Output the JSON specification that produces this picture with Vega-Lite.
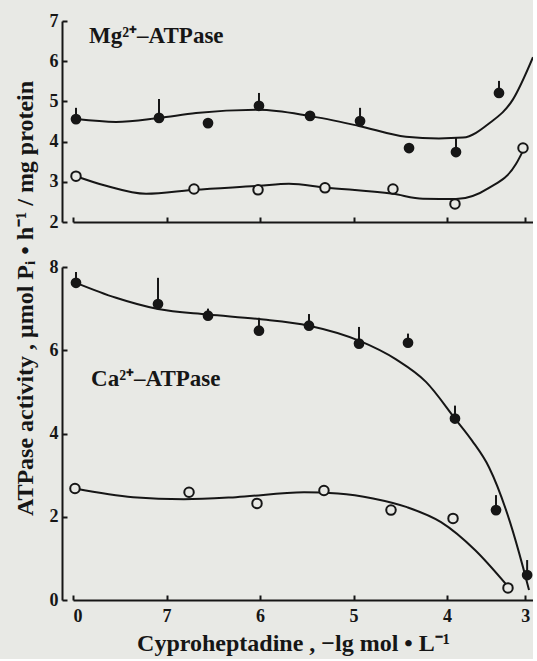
{
  "$schema": "https://vega.github.io/schema/vega-lite/v6.json",
  "background": "#e8e9e5",
  "padding": {"left": 13, "top": 12, "right": 0, "bottom": 4},
  "config": {
    "view": {"stroke": null},
    "font": "Liberation Serif",
    "axis": {
      "domainColor": "#161616", "domainWidth": 2, "tickColor": "#161616", "tickWidth": 2,
      "labelColor": "#161616", "labelFont": "Liberation Serif", "labelFontSize": 18, "labelFontWeight": "bold",
      "titleColor": "#161616", "titleFont": "Liberation Serif", "titleFontSize": 24, "titleFontWeight": "bold",
      "grid": false
    }
  },
  "datasets": {
    "points": [
      {"panel": "Mg", "series": "filled", "x": 7.968, "y": 4.56, "hi": 4.84},
      {"panel": "Mg", "series": "filled", "x": 7.080, "y": 4.59, "hi": 5.06},
      {"panel": "Mg", "series": "filled", "x": 6.556, "y": 4.46, "hi": null},
      {"panel": "Mg", "series": "filled", "x": 6.011, "y": 4.89, "hi": 5.21},
      {"panel": "Mg", "series": "filled", "x": 5.465, "y": 4.64, "hi": null},
      {"panel": "Mg", "series": "filled", "x": 4.930, "y": 4.51, "hi": 4.84},
      {"panel": "Mg", "series": "filled", "x": 4.406, "y": 3.84, "hi": null},
      {"panel": "Mg", "series": "filled", "x": 3.885, "y": 3.74, "hi": 4.09},
      {"panel": "Mg", "series": "filled", "x": 3.335, "y": 5.21, "hi": 5.51},
      {"panel": "Mg", "series": "open", "x": 7.968, "y": 3.14, "hi": null},
      {"panel": "Mg", "series": "open", "x": 6.706, "y": 2.82, "hi": null},
      {"panel": "Mg", "series": "open", "x": 6.021, "y": 2.80, "hi": null},
      {"panel": "Mg", "series": "open", "x": 5.305, "y": 2.85, "hi": null},
      {"panel": "Mg", "series": "open", "x": 4.578, "y": 2.82, "hi": null},
      {"panel": "Mg", "series": "open", "x": 3.898, "y": 2.45, "hi": null},
      {"panel": "Mg", "series": "open", "x": 3.028, "y": 3.84, "hi": null},
      {"panel": "Ca", "series": "filled", "x": 7.968, "y": 7.62, "hi": 7.88},
      {"panel": "Ca", "series": "filled", "x": 7.091, "y": 7.11, "hi": 7.74},
      {"panel": "Ca", "series": "filled", "x": 6.556, "y": 6.83, "hi": 7.00},
      {"panel": "Ca", "series": "filled", "x": 6.011, "y": 6.47, "hi": 6.78},
      {"panel": "Ca", "series": "filled", "x": 5.476, "y": 6.59, "hi": 6.87},
      {"panel": "Ca", "series": "filled", "x": 4.941, "y": 6.16, "hi": 6.56},
      {"panel": "Ca", "series": "filled", "x": 4.417, "y": 6.18, "hi": 6.40},
      {"panel": "Ca", "series": "filled", "x": 3.898, "y": 4.36, "hi": 4.67},
      {"panel": "Ca", "series": "filled", "x": 3.373, "y": 2.16, "hi": 2.52},
      {"panel": "Ca", "series": "filled", "x": 2.975, "y": 0.60, "hi": 0.96},
      {"panel": "Ca", "series": "open", "x": 7.979, "y": 2.68, "hi": null},
      {"panel": "Ca", "series": "open", "x": 6.759, "y": 2.59, "hi": null},
      {"panel": "Ca", "series": "open", "x": 6.032, "y": 2.32, "hi": null},
      {"panel": "Ca", "series": "open", "x": 5.316, "y": 2.63, "hi": null},
      {"panel": "Ca", "series": "open", "x": 4.599, "y": 2.16, "hi": null},
      {"panel": "Ca", "series": "open", "x": 3.923, "y": 1.96, "hi": null},
      {"panel": "Ca", "series": "open", "x": 3.220, "y": 0.29, "hi": null}
    ],
    "curves": [
      {"panel": "Mg", "series": "filled", "x": 7.968, "y": 4.56},
      {"panel": "Mg", "series": "filled", "x": 7.540, "y": 4.49},
      {"panel": "Mg", "series": "filled", "x": 7.080, "y": 4.59},
      {"panel": "Mg", "series": "filled", "x": 6.684, "y": 4.71},
      {"panel": "Mg", "series": "filled", "x": 6.011, "y": 4.79},
      {"panel": "Mg", "series": "filled", "x": 5.476, "y": 4.64},
      {"panel": "Mg", "series": "filled", "x": 4.941, "y": 4.39},
      {"panel": "Mg", "series": "filled", "x": 4.439, "y": 4.12},
      {"panel": "Mg", "series": "filled", "x": 4.086, "y": 4.08},
      {"panel": "Mg", "series": "filled", "x": 3.795, "y": 4.10},
      {"panel": "Mg", "series": "filled", "x": 3.463, "y": 4.45},
      {"panel": "Mg", "series": "filled", "x": 3.156, "y": 5.05},
      {"panel": "Mg", "series": "filled", "x": 2.900, "y": 6.10},
      {"panel": "Mg", "series": "open", "x": 7.968, "y": 3.14},
      {"panel": "Mg", "series": "open", "x": 7.647, "y": 2.90},
      {"panel": "Mg", "series": "open", "x": 7.219, "y": 2.70},
      {"panel": "Mg", "series": "open", "x": 6.706, "y": 2.80},
      {"panel": "Mg", "series": "open", "x": 6.011, "y": 2.90},
      {"panel": "Mg", "series": "open", "x": 5.690, "y": 2.95},
      {"panel": "Mg", "series": "open", "x": 5.305, "y": 2.86},
      {"panel": "Mg", "series": "open", "x": 4.578, "y": 2.70},
      {"panel": "Mg", "series": "open", "x": 4.257, "y": 2.58},
      {"panel": "Mg", "series": "open", "x": 3.885, "y": 2.57},
      {"panel": "Mg", "series": "open", "x": 3.463, "y": 2.85},
      {"panel": "Mg", "series": "open", "x": 3.118, "y": 3.44},
      {"panel": "Mg", "series": "open", "x": 3.028, "y": 3.77},
      {"panel": "Ca", "series": "filled", "x": 7.968, "y": 7.62},
      {"panel": "Ca", "series": "filled", "x": 7.540, "y": 7.26},
      {"panel": "Ca", "series": "filled", "x": 7.091, "y": 6.99},
      {"panel": "Ca", "series": "filled", "x": 6.556, "y": 6.86},
      {"panel": "Ca", "series": "filled", "x": 6.011, "y": 6.75},
      {"panel": "Ca", "series": "filled", "x": 5.476, "y": 6.59},
      {"panel": "Ca", "series": "filled", "x": 4.941, "y": 6.23},
      {"panel": "Ca", "series": "filled", "x": 4.545, "y": 5.78},
      {"panel": "Ca", "series": "filled", "x": 4.225, "y": 5.24},
      {"panel": "Ca", "series": "filled", "x": 3.898, "y": 4.36},
      {"panel": "Ca", "series": "filled", "x": 3.680, "y": 3.83},
      {"panel": "Ca", "series": "filled", "x": 3.463, "y": 3.19},
      {"panel": "Ca", "series": "filled", "x": 3.194, "y": 1.87},
      {"panel": "Ca", "series": "filled", "x": 3.028, "y": 0.79},
      {"panel": "Ca", "series": "filled", "x": 2.951, "y": 0.24},
      {"panel": "Ca", "series": "open", "x": 7.979, "y": 2.68},
      {"panel": "Ca", "series": "open", "x": 7.358, "y": 2.47},
      {"panel": "Ca", "series": "open", "x": 6.813, "y": 2.42},
      {"panel": "Ca", "series": "open", "x": 6.257, "y": 2.47},
      {"panel": "Ca", "series": "open", "x": 5.529, "y": 2.59},
      {"panel": "Ca", "series": "open", "x": 5.166, "y": 2.56},
      {"panel": "Ca", "series": "open", "x": 4.791, "y": 2.44},
      {"panel": "Ca", "series": "open", "x": 4.428, "y": 2.23},
      {"panel": "Ca", "series": "open", "x": 4.064, "y": 1.87},
      {"panel": "Ca", "series": "open", "x": 3.642, "y": 1.20},
      {"panel": "Ca", "series": "open", "x": 3.246, "y": 0.38}
    ],
    "labels": [
      {"panel": "Mg", "x": 7.829, "y": 6.63, "label": "Mg²⁺–ATPase"},
      {"panel": "Ca", "x": 7.807, "y": 5.32, "label": "Ca²⁺–ATPase"}
    ]
  },
  "title": {
    "text": "ATPase activity , μmol Pᵢ • h⁻¹ / mg protein",
    "orient": "left", "anchor": "middle", "font": "Liberation Serif",
    "fontSize": 24, "fontWeight": "bold", "color": "#161616", "offset": 11, "dx": 35
  },
  "bounds": "flush",
  "spacing": 45,
  "vconcat": [
    {
      "width": 460, "height": 201,
      "layer": [
        {
          "data": {"name": "curves"},
          "transform": [{"filter": "datum.panel == 'Mg'"}],
          "mark": {"type": "line", "interpolate": "monotone", "color": "#161616", "strokeWidth": 2, "clip": true},
          "encoding": {
            "x": {"field": "x", "type": "quantitative", "scale": {"domain": [2.9, 4, 8], "range": [460, 374, 0], "nice": false, "zero": false},
                  "axis": {"values": [8, 7, 6, 5, 4, 3], "labels": false, "title": null, "tickSize": -5}},
            "y": {"field": "y", "type": "quantitative", "scale": {"domain": [2, 7], "nice": false, "zero": false},
                  "axis": {"values": [2, 3, 4, 5, 6, 7], "title": null, "offset": 11, "tickSize": -5, "labelPadding": 9}},
            "detail": {"field": "series"}
          }
        },
        {
          "data": {"name": "points"},
          "transform": [{"filter": "datum.panel == 'Mg' && datum.hi != null"}],
          "mark": {"type": "rule", "color": "#161616", "strokeWidth": 2},
          "encoding": {
            "x": {"field": "x", "type": "quantitative"},
            "y": {"field": "y", "type": "quantitative"},
            "y2": {"field": "hi"}
          }
        },
        {
          "data": {"name": "points"},
          "transform": [{"filter": "datum.panel == 'Mg' && datum.series == 'open'"}],
          "mark": {"type": "point", "shape": "circle", "filled": false, "fill": "#e8e9e5", "fillOpacity": 1, "stroke": "#161616", "strokeWidth": 2, "size": 90, "opacity": 1},
          "encoding": {
            "x": {"field": "x", "type": "quantitative"},
            "y": {"field": "y", "type": "quantitative"}
          }
        },
        {
          "data": {"name": "points"},
          "transform": [{"filter": "datum.panel == 'Mg' && datum.series == 'filled'"}],
          "mark": {"type": "circle", "color": "#161616", "size": 115, "opacity": 1},
          "encoding": {
            "x": {"field": "x", "type": "quantitative"},
            "y": {"field": "y", "type": "quantitative"}
          }
        },
        {
          "data": {"name": "labels"},
          "transform": [{"filter": "datum.panel == 'Mg'"}],
          "mark": {"type": "text", "align": "left", "baseline": "middle", "font": "Liberation Serif", "fontSize": 23, "fontWeight": "bold", "color": "#161616"},
          "encoding": {
            "x": {"field": "x", "type": "quantitative"},
            "y": {"field": "y", "type": "quantitative"},
            "text": {"field": "label"}
          }
        }
      ]
    },
    {
      "width": 460, "height": 333,
      "layer": [
        {
          "data": {"name": "curves"},
          "transform": [{"filter": "datum.panel == 'Ca'"}],
          "mark": {"type": "line", "interpolate": "monotone", "color": "#161616", "strokeWidth": 2, "clip": true},
          "encoding": {
            "x": {"field": "x", "type": "quantitative", "scale": {"domain": [2.9, 4, 8], "range": [460, 374, 0], "nice": false, "zero": false},
                  "axis": {"values": [8, 7, 6, 5, 4, 3], "labelExpr": "datum.value == 8 ? '0' : format(datum.value, 'd')", "title": "Cyproheptadine ,  −lg mol • L⁻¹", "tickSize": -5, "labelPadding": 12, "titlePadding": 6, "titleX": 220, "titleAnchor": "middle"}},
            "y": {"field": "y", "type": "quantitative", "scale": {"domain": [0, 8], "nice": false, "zero": false},
                  "axis": {"values": [0, 2, 4, 6, 8], "title": null, "offset": 11, "tickSize": -5, "labelPadding": 9}},
            "detail": {"field": "series"}
          }
        },
        {
          "data": {"name": "points"},
          "transform": [{"filter": "datum.panel == 'Ca' && datum.hi != null"}],
          "mark": {"type": "rule", "color": "#161616", "strokeWidth": 2},
          "encoding": {
            "x": {"field": "x", "type": "quantitative"},
            "y": {"field": "y", "type": "quantitative"},
            "y2": {"field": "hi"}
          }
        },
        {
          "data": {"name": "points"},
          "transform": [{"filter": "datum.panel == 'Ca' && datum.series == 'open'"}],
          "mark": {"type": "point", "shape": "circle", "filled": false, "fill": "#e8e9e5", "fillOpacity": 1, "stroke": "#161616", "strokeWidth": 2, "size": 90, "opacity": 1},
          "encoding": {
            "x": {"field": "x", "type": "quantitative"},
            "y": {"field": "y", "type": "quantitative"}
          }
        },
        {
          "data": {"name": "points"},
          "transform": [{"filter": "datum.panel == 'Ca' && datum.series == 'filled'"}],
          "mark": {"type": "circle", "color": "#161616", "size": 115, "opacity": 1},
          "encoding": {
            "x": {"field": "x", "type": "quantitative"},
            "y": {"field": "y", "type": "quantitative"}
          }
        },
        {
          "data": {"name": "labels"},
          "transform": [{"filter": "datum.panel == 'Ca'"}],
          "mark": {"type": "text", "align": "left", "baseline": "middle", "font": "Liberation Serif", "fontSize": 23, "fontWeight": "bold", "color": "#161616"},
          "encoding": {
            "x": {"field": "x", "type": "quantitative"},
            "y": {"field": "y", "type": "quantitative"},
            "text": {"field": "label"}
          }
        }
      ]
    }
  ]
}
